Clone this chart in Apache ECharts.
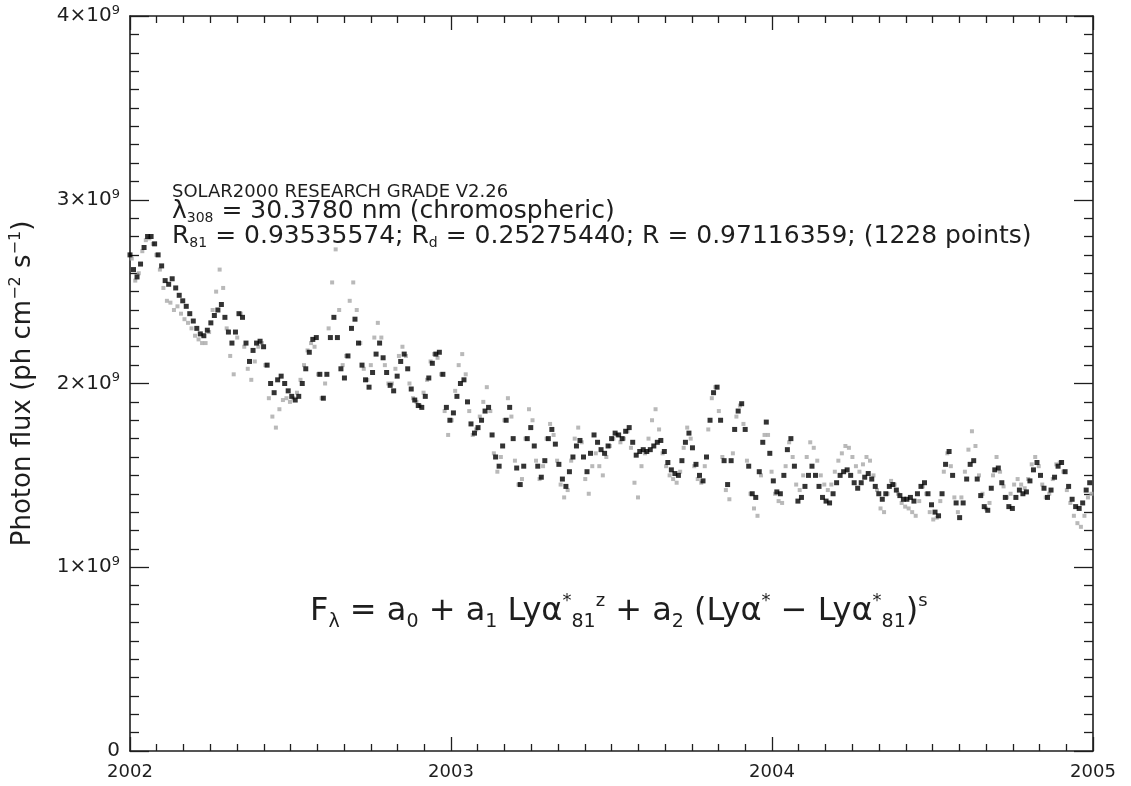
<!DOCTYPE html>
<html>
<head>
<meta charset="utf-8">
<script src="https://cdn.jsdelivr.net/npm/echarts@6/dist/echarts.min.js"></script>
<style>
html,body{margin:0;padding:0;background:#fff;}
#chart{width:1131px;height:786px;}
</style>
</head>
<body>
<div id="chart"></div>
<script>
// Photon flux in units of 1e9 ph cm^-2 s^-1
// Model (black) values: one sample every 4 days from 2002-01-01
const modelStartDay = 0;
const modelStepDays = 4;
const modelValues = [
 2.70,2.62,2.58,2.65,2.74,2.80,2.80,2.76,2.70,2.64,
 2.56,2.54,2.57,2.52,2.48,2.45,2.42,2.38,2.34,2.30,
 2.27,2.26,2.29,2.33,2.37,2.40,2.43,2.36,2.28,2.22,
 2.28,2.38,2.36,2.22,2.12,2.18,2.22,2.23,2.20,2.10,
 2.00,1.95,2.02,2.04,2.00,1.96,1.93,1.91,1.93,2.00,
 2.08,2.17,2.24,2.25,2.05,1.92,2.05,2.25,2.36,2.25,
 2.08,2.03,2.15,2.30,2.35,2.22,2.10,2.02,1.98,2.06,
 2.16,2.22,2.14,2.06,1.99,1.96,2.04,2.12,2.16,2.08,
 1.97,1.91,1.88,1.87,1.93,2.03,2.11,2.16,2.17,2.05,
 1.87,1.80,1.84,1.93,2.00,2.02,1.90,1.78,1.73,1.76,
 1.80,1.85,1.87,1.72,1.60,1.55,1.66,1.80,1.87,1.70,
 1.54,1.45,1.55,1.70,1.76,1.66,1.55,1.49,1.58,1.70,
 1.75,1.67,1.56,1.48,1.44,1.52,1.60,1.66,1.69,1.60,
 1.52,1.62,1.72,1.68,1.64,1.62,1.66,1.70,1.73,1.72,
 1.70,1.74,1.76,1.68,1.61,1.63,1.64,1.63,1.64,1.66,
 1.68,1.69,1.63,1.57,1.53,1.51,1.50,1.58,1.68,1.73,
 1.65,1.56,1.50,1.47,1.60,1.80,1.95,1.98,1.80,1.58,
 1.45,1.58,1.75,1.85,1.89,1.75,1.55,1.40,1.38,1.52,
 1.68,1.79,1.62,1.47,1.41,1.40,1.50,1.64,1.70,1.55,
 1.36,1.38,1.44,1.50,1.55,1.50,1.44,1.38,1.36,1.35,
 1.40,1.46,1.50,1.52,1.53,1.50,1.46,1.43,1.46,1.49,
 1.51,1.48,1.44,1.40,1.37,1.40,1.44,1.45,1.42,1.39,
 1.37,1.37,1.38,1.36,1.40,1.44,1.46,1.40,1.34,1.30,
 1.28,1.40,1.56,1.63,1.50,1.35,1.27,1.35,1.48,1.56,
 1.58,1.48,1.39,1.33,1.31,1.43,1.53,1.54,1.46,1.38,
 1.33,1.32,1.38,1.42,1.40,1.41,1.47,1.53,1.57,1.50,
 1.43,1.38,1.42,1.49,1.55,1.57,1.52,1.44,1.37,1.33,
 1.32,1.35,1.42,1.46,1.44
];
// Measured (grey) values: one sample every 4 days, starting 2 days in
const measStartDay = 2;
const measStepDays = 4;
const measuredValues = [
 2.68,2.56,2.60,2.72,2.78,2.79,2.76,2.70,2.62,2.52,
 2.45,2.44,2.40,2.42,2.38,2.35,2.33,2.30,2.26,2.24,
 2.22,2.22,2.28,2.40,2.50,2.62,2.52,2.30,2.15,2.05,
 2.25,2.38,2.20,2.08,2.02,2.12,2.20,2.22,2.10,1.92,
 1.82,1.76,1.86,1.91,1.92,1.90,1.92,1.95,2.02,2.10,
 2.18,2.22,2.20,2.05,1.92,2.00,2.30,2.55,2.73,2.40,
 2.10,2.15,2.45,2.55,2.40,2.22,2.08,2.02,2.10,2.25,
 2.33,2.25,2.10,2.00,2.00,2.08,2.15,2.20,2.15,2.00,
 1.92,1.90,1.88,1.95,2.02,2.12,2.16,2.14,2.05,1.85,
 1.72,1.80,1.96,2.10,2.16,2.05,1.85,1.72,1.75,1.82,
 1.90,1.98,1.85,1.62,1.52,1.60,1.80,1.92,1.82,1.58,
 1.45,1.48,1.70,1.86,1.80,1.58,1.48,1.55,1.70,1.78,
 1.72,1.58,1.45,1.38,1.42,1.58,1.70,1.76,1.68,1.48,
 1.40,1.55,1.62,1.55,1.50,1.60,1.66,1.70,1.72,1.68,
 1.70,1.74,1.65,1.46,1.38,1.55,1.62,1.70,1.80,1.86,
 1.75,1.62,1.55,1.50,1.48,1.46,1.52,1.65,1.76,1.70,
 1.55,1.48,1.46,1.55,1.75,1.92,1.98,1.85,1.60,1.42,
 1.37,1.62,1.82,1.88,1.78,1.58,1.40,1.32,1.28,1.50,
 1.72,1.72,1.52,1.40,1.36,1.35,1.55,1.68,1.60,1.45,
 1.42,1.50,1.60,1.68,1.65,1.58,1.50,1.45,1.42,1.45,
 1.52,1.58,1.62,1.66,1.65,1.60,1.55,1.52,1.56,1.60,
 1.58,1.50,1.42,1.32,1.30,1.40,1.47,1.45,1.40,1.35,
 1.33,1.32,1.30,1.28,1.36,1.44,1.40,1.30,1.26,1.27,
 1.36,1.52,1.62,1.55,1.38,1.30,1.38,1.52,1.64,1.74,
 1.66,1.50,1.40,1.32,1.35,1.50,1.60,1.52,1.44,1.38,
 1.40,1.45,1.48,1.45,1.43,1.48,1.56,1.60,1.55,1.45,
 1.38,1.40,1.48,1.56,1.57,1.52,1.42,1.35,1.28,1.24,
 1.22,1.28,1.38,1.40
];
const xStart = 2002, xEnd = 2005;
const xTicks = [2002, 2003, 2004, 2005];
const yTicks = [0, 1, 2, 3, 4];
const yAxisName = '{m|Photon flux (ph cm}{sup|\u22122}{m| s}{sup|\u22121}{m|)}';
const infoLine1 = 'SOLAR2000 RESEARCH GRADE V2.26';
const infoLine2 = '{m|\u03BB}{sub|308}{m| = 30.3780 nm (chromospheric)}';
const infoLine3 = '{m|R}{sub|81}{m| = 0.93535574; R}{sub|d}{m| = 0.25275440; R = 0.97116359; (1228 points)}';
const formula = '{m|F}{sub|\u03BB}{m| = a}{sub|0}{m| + a}{sub|1}{m| Ly\u03B1}{sup|*}{sub|81}{sup|z}{m| + a}{sub|2}{m| (Ly\u03B1}{sup|*}{m| \u2212 Ly\u03B1}{sup|*}{sub|81}{m|)}{sup|s}';

const DAYS_PER_YEAR = 365.25;
const toPoints = (vals, start, step) => vals.map((v, i) => [xStart + (start + i * step) / DAYS_PER_YEAR, v]);

const FONT = '"DejaVu Sans", "Liberation Sans", sans-serif';
const INK = '#1e1e1e';

const chart = echarts.init(document.getElementById('chart'), null, {renderer: 'canvas'});

const commonX = {
  type: 'value', min: xStart, max: xEnd, interval: 1,
  axisLine: {show: true, onZero: false, lineStyle: {color: INK, width: 1.6}},
  axisTick: {show: true, inside: true, length: 14, lineStyle: {color: INK, width: 1.3}},
  minorTick: {show: true, splitNumber: 12, length: 7, lineStyle: {color: INK, width: 1.3}},
  splitLine: {show: false}, minorSplitLine: {show: false}
};
const commonY = {
  type: 'value', min: 0, max: 4, interval: 1,
  axisLine: {show: true, onZero: false, lineStyle: {color: INK, width: 1.6}},
  axisTick: {show: true, inside: true, length: 19, lineStyle: {color: INK, width: 1.3}},
  minorTick: {show: true, splitNumber: 10, length: 9, lineStyle: {color: INK, width: 1.3}},
  splitLine: {show: false}, minorSplitLine: {show: false}
};

const option = {
  backgroundColor: '#ffffff',
  animation: false,
  grid: {left: 129, right: 38, top: 16, bottom: 35, containLabel: false},
  xAxis: [
    Object.assign({}, commonX, {
      position: 'bottom',
      axisLabel: {show: true, margin: 12, color: INK, fontFamily: FONT, fontSize: 18,
        formatter: v => xTicks.includes(v) ? String(v) : ''}
    }),
    Object.assign({}, commonX, {position: 'top', axisLabel: {show: false}})
  ],
  yAxis: [
    Object.assign({}, commonY, {
      position: 'left',
      name: yAxisName, nameLocation: 'middle', nameGap: 92, nameRotate: 90,
      nameTextStyle: {color: INK,
        rich: {
          m: {fontFamily: FONT, fontSize: 26, lineHeight: 30, color: INK},
          sup: {fontFamily: FONT, fontSize: 16, lineHeight: 14, verticalAlign: 'top', color: INK}
        }},
      axisLabel: {show: true, margin: 10, color: INK,
        formatter: v => yTicks.includes(v) ? (v === 0 ? '{b|0}' : '{b|' + v + '\u00D710}{s|9}') : '',
        rich: {
          b: {fontFamily: FONT, fontSize: 20, color: INK, lineHeight: 24},
          s: {fontFamily: FONT, fontSize: 13, color: INK, lineHeight: 12, verticalAlign: 'top'}
        }}
    }),
    Object.assign({}, commonY, {position: 'right', axisLabel: {show: false}})
  ],
  series: [
    {
      name: 'Measured', type: 'scatter', xAxisIndex: 0, yAxisIndex: 0,
      data: toPoints(measuredValues, measStartDay, measStepDays),
      symbol: 'rect', symbolSize: [4, 4],
      itemStyle: {color: '#a8a8a8'}, z: 2
    },
    {
      name: 'Model', type: 'scatter', xAxisIndex: 0, yAxisIndex: 0,
      data: toPoints(modelValues, modelStartDay, modelStepDays),
      symbol: 'rect', symbolSize: [5, 5],
      itemStyle: {color: '#000000'}, z: 3
    }
  ],
  graphic: [
    {type: 'text', left: 172, top: 183, z: 10,
      style: {text: infoLine1, font: '18px ' + FONT, fill: INK}},
    {type: 'text', left: 172, top: 199, z: 10,
      style: {text: infoLine2, fill: INK,
        rich: {
          m: {fontFamily: FONT, fontSize: 25, lineHeight: 28, color: INK},
          sub: {fontFamily: FONT, fontSize: 14, lineHeight: 12, verticalAlign: 'bottom', color: INK}
        }}},
    {type: 'text', left: 172, top: 224, z: 10,
      style: {text: infoLine3, fill: INK,
        rich: {
          m: {fontFamily: FONT, fontSize: 25, lineHeight: 28, color: INK},
          sub: {fontFamily: FONT, fontSize: 14, lineHeight: 12, verticalAlign: 'bottom', color: INK}
        }}},
    {type: 'text', left: 310, top: 592, z: 10,
      style: {text: formula, fill: INK,
        rich: {
          m: {fontFamily: FONT, fontSize: 32, lineHeight: 40, color: INK},
          sub: {fontFamily: FONT, fontSize: 19, lineHeight: 16, verticalAlign: 'bottom', color: INK},
          sup: {fontFamily: FONT, fontSize: 18, lineHeight: 16, verticalAlign: 'top', color: INK}
        }}}
  ]
};
chart.setOption(option);
</script>
</body>
</html>
